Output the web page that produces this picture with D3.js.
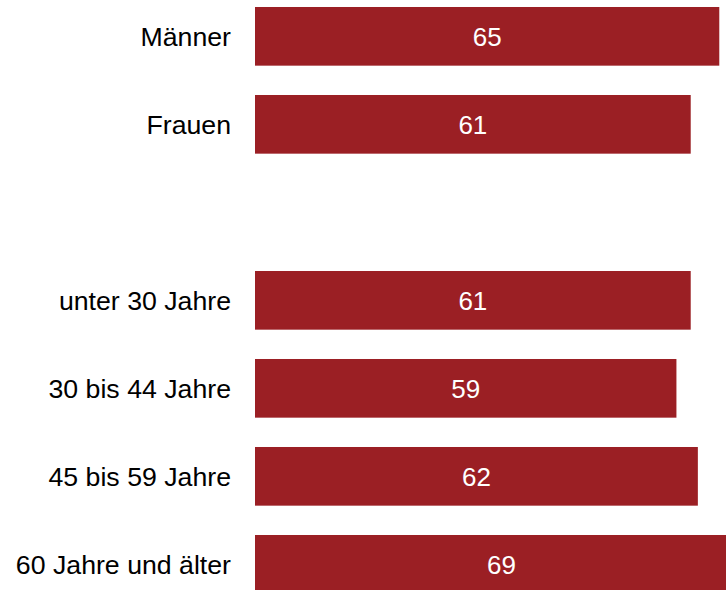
<!DOCTYPE html>
<html>
<head>
<meta charset="utf-8">
<script src="https://cdn.jsdelivr.net/npm/d3@7"></script>
<style>
  html, body { margin: 0; padding: 0; background: #ffffff; overflow: hidden; }
  svg { display: block; }
</style>
</head>
<body>
<svg id="chart" width="726" height="590"></svg>
<script>
// Data
const categories = ["Männer", "Frauen", "__gap__", "unter 30 Jahre", "30 bis 44 Jahre", "45 bis 59 Jahre", "60 Jahre und älter"];
const values = [65, 61, null, 61, 59, 62, 69];

const W = 726, H = 590;
const barColor = "#9b1f24";
const fontFamily = "Arial, 'Liberation Sans', Helvetica, sans-serif";

const svg = d3.select("#chart");

const x = d3.scaleLinear().domain([0, 70]).range([255, 755]);
const y = d3.scaleBand()
  .domain(categories)
  .range([-7.67, 608.33])
  .paddingInner(1/3)
  .paddingOuter(1/6);

const rows = categories.map((c, i) => ({ cat: c, val: values[i] })).filter(d => d.val !== null);

svg.selectAll("rect.bar")
  .data(rows)
  .enter().append("rect")
  .attr("class", "bar")
  .attr("x", x(0))
  .attr("y", d => y(d.cat))
  .attr("width", d => x(d.val) - x(0))
  .attr("height", y.bandwidth())
  .attr("fill", barColor);

svg.selectAll("text.cat")
  .data(rows)
  .enter().append("text")
  .attr("class", "cat")
  .attr("x", 231)
  .attr("y", d => y(d.cat) + y.bandwidth() / 2)
  .attr("dy", "0.36em")
  .attr("text-anchor", "end")
  .attr("font-family", fontFamily)
  .attr("font-size", 26.7)
  .attr("fill", "#000000")
  .text(d => d.cat);

svg.selectAll("text.val")
  .data(rows)
  .enter().append("text")
  .attr("class", "val")
  .attr("x", d => (x(0) + x(d.val)) / 2)
  .attr("y", d => y(d.cat) + y.bandwidth() / 2)
  .attr("dy", "0.36em")
  .attr("text-anchor", "middle")
  .attr("font-family", fontFamily)
  .attr("font-size", 26)
  .attr("fill", "#ffffff")
  .text(d => d.val);
</script>
</body>
</html>
